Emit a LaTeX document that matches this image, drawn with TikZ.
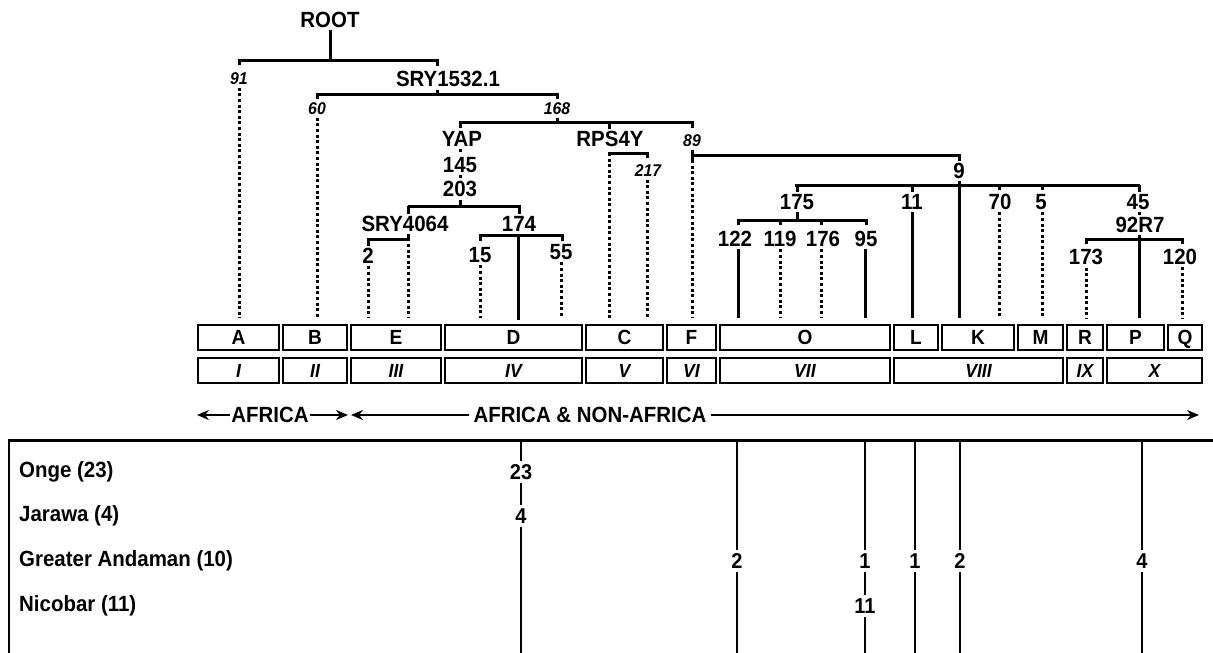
\documentclass[tikz,border=0pt]{standalone}
\usepackage{fontspec}
\setmainfont{Liberation Sans}[FakeStretch=0.93]
\usetikzlibrary{arrows.meta,positioning}
\tikzset{
  marker/.style={
    font=\bfseries\fontsize{22}{24}\selectfont,
    inner sep=2.5pt
  },
  markerIt/.style={
    font=\bfseries\itshape\fontsize{17}{19}\selectfont,
    inner sep=2.5pt
  },
  branch/.style={
    line width=3pt
  },
  branchDotted/.style={
    line width=3pt,
    dash pattern=on 3pt off 2.6pt
  },
  haplo/.style={
    rectangle,
    draw,
    line width=1.4pt,
    minimum height=25pt,
    inner sep=0pt,
    text depth=0pt,
    font=\bfseries\fontsize{20.5}{22}\selectfont
  },
  clade/.style={
    haplo,
    font=\bfseries\itshape\fontsize{19}{21}\selectfont
  },
  rangeArrow/.style={
    -{Stealth[length=12pt,width=10pt]},
    line width=1.4pt
  },
  tableRule/.style={
    line width=3pt
  },
  countLine/.style={
    line width=1.2pt
  },
  count/.style={
    font=\bfseries\fontsize{21.5}{23}\selectfont,
    inner sep=3pt
  },
  population/.style={
    font=\bfseries\fontsize{22}{24}\selectfont,
    anchor=west,
    inner sep=0pt
  }
}

\begin{document}
\begin{tikzpicture}[x=1pt,y=-1pt]
  \useasboundingbox (0,0) rectangle (1213,653);
  \coordinate (tips) at (0,318);

  % tree labels
  \node[marker] (root) at (330,20) {ROOT};
  \node[markerIt] (m91) at (239,79) {91};
  \node[marker] (sry1532) at (448,79) {SRY1532.1};
  \node[markerIt] (m60) at (317,109) {60};
  \node[markerIt] (m168) at (557,109) {168};
  \node[marker] (yap) at (462,139) {YAP};
  \node[marker] (m145) at (460,165) {145};
  \node[marker] (m203) at (460,189) {203};
  \node[marker] (sry4064) at (405,224) {SRY4064};
  \node[marker] (m174) at (519,224) {174};
  \node[marker] (m2) at (368,256) {2};
  \node[marker] (m15) at (480,255) {15};
  \node[marker] (m55) at (561,252) {55};
  \node[marker] (rps4y) at (610,139) {RPS4Y};
  \node[markerIt] (m217) at (648,171) {217};
  \node[markerIt] (m89) at (692,141) {89};
  \node[marker] (m9) at (959,171) {9};
  \node[marker] (m175) at (797,202) {175};
  \node[marker] (m11) at (912,202) {11};
  \node[marker] (m70) at (1000,202) {70};
  \node[marker] (m5) at (1041,202) {5};
  \node[marker] (m45) at (1138,202) {45};
  \node[marker] (m92R7) at (1140,225) {92R7};
  \node[marker] (m122) at (735,239) {122};
  \node[marker] (m119) at (780,239) {119};
  \node[marker] (m176) at (823,239) {176};
  \node[marker] (m95) at (866,239) {95};
  \node[marker] (m173) at (1086,257) {173};
  \node[marker] (m120) at (1180,257) {120};

  % root and first splits
  \draw[branch] (root.south) -- (root.south |- 0,60);
  \draw[branch] (239,65) -- (239,60) -- (437,60) -- (437,66);
  \draw[branchDotted] (m91.south) -- (m91.south |- tips);
  \draw[branch] (sry1532.south -| 437,0) -- (437,94);
  \draw[branch] (317,99) -- (317,94) -- (557,94) -- (557,99);
  \draw[branchDotted] (m60.south) -- (m60.south |- tips);
  \draw[branch] (m168.south) -- (557,122);
  \draw[branch] (460,128) -- (460,122) -- (692,122) -- (692,128);
  \draw[branch] (609,122) -- (rps4y.north -| 609,0);

  % YAP side
  \draw[branchDotted] (yap.south -| 460,0) -- (m145.north);
  \draw[branchDotted] (m145.south) -- (m203.north);
  \draw[branch] (m203.south) -- (460,206);
  \draw[branch] (408,206) -- (519,206) -- (m174.north -| 519,0);
  \draw[branch] (408,206) -- (sry4064.north -| 408,0);
  \draw[branch] (sry4064.south -| 408,0) -- (408,239) -- (368,239) -- (m2.north);
  \draw[branchDotted] (408,244) -- (408 ,318);
  \draw[branchDotted] (m2.south) -- (m2.south |- tips);
  \draw[branch] (480,241) -- (480,235) -- (562,235) -- (562,241);
  \draw[branch] (518,235) -- (518,320);
  \draw[branchDotted] (m15.south) -- (m15.south |- tips);
  \draw[branchDotted] (m55.south) -- (m55.south |- tips);

  % RPS4Y side
  \draw[branch] (608,153) -- (647,153) -- (647,158);
  \draw[branchDotted] (609,153) -- (609,318);
  \draw[branchDotted] (m217.south -| 647,0) -- (647,318);

  % marker 89 side
  \draw[branch] (692,150) -- (692,160);
  \draw[branch] (692,155) -- (959,155) -- (m9.north);
  \draw[branchDotted] (692,160) -- (692,318);
  \draw[branch] (m9.south) -- (959,318);
  \draw[branch] (795,185) -- (1140,185);
  \draw[branch] (797,185) -- (m175.north -| 797,0);
  \draw[branch] (m175.south -| 797,0) -- (797,220);
  \draw[branch] (738,225) -- (738,220) -- (866,220) -- (866,225);
  \draw[branch] (780,220) -- (780,225);
  \draw[branch] (821,220) -- (821,225);
  \draw[branch] (m122.south -| 738,0) -- (738,318);
  \draw[branchDotted] (m119.south) -- (m119.south |- tips);
  \draw[branchDotted] (m176.south -| 821,0) -- (821,318);
  \draw[branch] (m95.south -| 865,0) -- (865,318);
  \draw[branch] (912,185) -- (m11.north);
  \draw[branch] (m11.south) -- (912,318);
  \draw[branch] (999,185) -- (999,190);
  \draw[branchDotted] (m70.south -| 999,0) -- (999,318);
  \draw[branch] (1042,185) -- (1042,190);
  \draw[branchDotted] (m5.south -| 1042,0) -- (1042,318);
  \draw[branch] (1139,185) -- (m45.north -| 1139,0);
  \draw[branchDotted] (m45.south -| 1139,0) -- (m92R7.north -| 1139,0);
  \draw[branch] (1086,244) -- (1086,239) -- (1182,239) -- (1182,244);
  \draw[branch] (m92R7.south -| 1139,0) -- (1139,318);
  \draw[branchDotted] (m173.south) -- (m173.south |- tips);
  \draw[branchDotted] (m120.south -| 1182,0) -- (1182,318);

  % haplogroups and clades
  \foreach \hg/\lft/\rgt in {A/198/279, B/283/347, E/351/441, D/445/582,
      C/586/663, F/667/716, O/720/890, L/894/938, K/942/1014, M/1018/1063,
      R/1067/1103, P/1107/1164, Q/1168/1202}
    \node[haplo, minimum width={(\rgt-\lft)*1pt}] (hg\hg) at ({(\lft+\rgt)/2},337.5) {\hg};
  \foreach \cl/\lft/\rgt in {I/198/279, II/283/347, III/351/441, IV/445/582,
      V/586/663, VI/667/716, VII/720/890, VIII/894/1063, IX/1067/1103, X/1107/1202}
    \node[clade, minimum width={(\rgt-\lft)*1pt}] (cl\cl) at ({(\lft+\rgt)/2},370.5) {\cl};

  % ranges
  \node[marker, inner sep=1pt] (africa) at (270,415) {AFRICA};
  \node[marker, inner sep=4pt] (nonafrica) at (590,415) {AFRICA \& NON-AFRICA};
  \draw[rangeArrow] (africa.west) -- (197,415);
  \draw[rangeArrow] (africa.east) -- (348,415);
  \draw[rangeArrow] (nonafrica.west) -- (351,415);
  \draw[rangeArrow] (nonafrica.east) -- (1199,415);

  % populations table
  \draw[tableRule] (9,440) -- (1213,440);
  \draw[line width=2.5pt] (9,438.5) -- (9,653);
  \node[population] (onge) at (19,472) {Onge (23)};
  \node[population] (jarawa) at (19,516) {Jarawa (4)};
  \node[population] (andaman) at (19,561) {Greater Andaman (10)};
  \node[population] (nicobar) at (19,606) {Nicobar (11)};

  \node[count] (cD1) at (521,0 |- onge) {23};
  \node[count] (cD2) at (521,0 |- jarawa) {4};
  \node[count] (cO3) at (737,0 |- andaman) {2};
  \node[count] (cOb3) at (865,0 |- andaman) {1};
  \node[count] (cOb4) at (865,0 |- nicobar) {11};
  \node[count] (cL3) at (915,0 |- andaman) {1};
  \node[count] (cK3) at (960,0 |- andaman) {2};
  \node[count] (cP3) at (1142,0 |- andaman) {4};

  \draw[countLine] (521,441.5) -- (cD1.north);
  \draw[countLine] (cD1.south) -- (cD2.north);
  \draw[countLine] (cD2.south) -- (521,653);
  \draw[countLine] (737,441.5) -- (cO3.north);
  \draw[countLine] (cO3.south) -- (737,653);
  \draw[countLine] (865,441.5) -- (cOb3.north);
  \draw[countLine] (cOb3.south) -- (cOb4.north);
  \draw[countLine] (cOb4.south) -- (865,653);
  \draw[countLine] (915,441.5) -- (cL3.north);
  \draw[countLine] (cL3.south) -- (915,653);
  \draw[countLine] (960,441.5) -- (cK3.north);
  \draw[countLine] (cK3.south) -- (960,653);
  \draw[countLine] (1142,441.5) -- (cP3.north);
  \draw[countLine] (cP3.south) -- (1142,653);
\end{tikzpicture}
\end{document}
